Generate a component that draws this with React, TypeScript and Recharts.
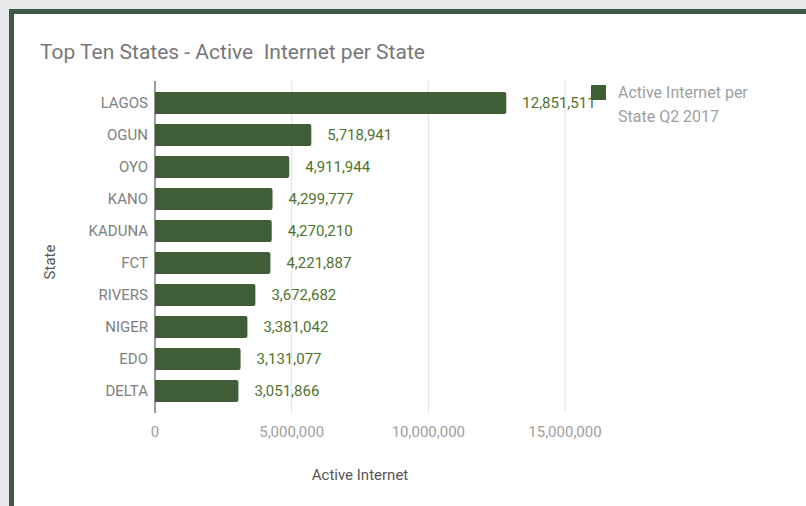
import { BarChart, Bar, XAxis, YAxis, CartesianGrid, LabelList, Legend } from "recharts";

const states = ["LAGOS", "OGUN", "OYO", "KANO", "KADUNA", "FCT", "RIVERS", "NIGER", "EDO", "DELTA"];
const activeInternet = [12851511, 5718941, 4911944, 4299777, 4270210, 4221887, 3672682, 3381042, 3131077, 3051866];
const xTicks = [0, 5000000, 10000000, 15000000];
const seriesName = "Active Internet per State Q2 2017";

const data = states.map((state, i) => ({ state, value: activeInternet[i] }));

const BAR = "#3f5e37";
const FONT = "Roboto, sans-serif";
const fmt = (v: any) => Number(v).toLocaleString("en-US");

function LegendBox(props: any) {
  const item = props.payload && props.payload[0];
  return (
    <div style={{ display: "flex", alignItems: "flex-start", fontFamily: FONT }}>
      <div style={{ width: 15, height: 15, background: BAR, marginTop: 4, borderRadius: 1, flexShrink: 0 }} />
      <div style={{ marginLeft: 12, fontSize: 16, lineHeight: "24px", color: "#9e9e9e", width: 160 }}>
        {item ? item.value : seriesName}
      </div>
    </div>
  );
}

export default function App() {
  return (
    <div style={{ position: "fixed", left: 0, top: 0, width: 806, height: 506, background: "#e8e9eb", overflow: "hidden" }}>
      {/* frame, right and bottom edges run off the picture */}
      <div
        style={{
          position: "absolute",
          left: 9,
          top: 9,
          width: 820,
          height: 520,
          borderTop: "5px solid #3d5b47",
          borderLeft: "5px solid #3d5b47",
          background: "#fff",
        }}
      />
      <div
        style={{
          position: "absolute",
          left: 40,
          top: 40,
          fontFamily: FONT,
          fontSize: 21,
          lineHeight: "24px",
          color: "#777",
          whiteSpace: "pre",
        }}
      >
        {"Top Ten States - Active  Internet per State"}
      </div>
      <div style={{ position: "absolute", left: 0, top: 0 }}>
        <BarChart
          width={806}
          height={506}
          data={data}
          layout="vertical"
          margin={{ top: 81, right: 241, bottom: 63, left: 0 }}
          style={{ fontFamily: FONT }}
        >
          <CartesianGrid horizontal={false} stroke="#e0e0e0" />
          <XAxis
            type="number"
            domain={[0, 15000000]}
            ticks={xTicks}
            tickFormatter={fmt}
            axisLine={false}
            tickLine={false}
            tickSize={0}
            tickMargin={13}
            tick={{ fill: "#9e9e9e", fontSize: 15 }}
            height={30}
            label={{
              content: (p: any) => (
                <text
                  x={p.viewBox.x + p.viewBox.width / 2}
                  y={480}
                  textAnchor="middle"
                  fill="#555"
                  fontSize={15}
                >
                  Active Internet
                </text>
              ),
            }}
          />
          <YAxis
            type="category"
            dataKey="state"
            width={155}
            padding={{ top: 6, bottom: 6 }}
            axisLine={{ stroke: "#444" }}
            tickLine={false}
            tickSize={0}
            tickMargin={7}
            tick={{ fill: "#808080", fontSize: 15 }}
            label={{
              content: () => (
                <text x={55} y={262} textAnchor="middle" fill="#555" fontSize={15} transform="rotate(-90, 55, 262)">
                  State
                </text>
              ),
            }}
          />
          <Legend
            layout="horizontal"
            verticalAlign="middle"
            align="center"
            width={200}
            content={<LegendBox />}
            wrapperStyle={{ position: "absolute", left: 591, top: 81, width: 200 }}
          />
          <Bar dataKey="value" name={seriesName} fill={BAR} barSize={22} radius={[0, 2, 2, 0]} isAnimationActive={false}>
            <LabelList dataKey="value" position="right" offset={16} formatter={fmt} fill="#4f732f" fontSize={15} />
          </Bar>
        </BarChart>
      </div>
    </div>
  );
}
